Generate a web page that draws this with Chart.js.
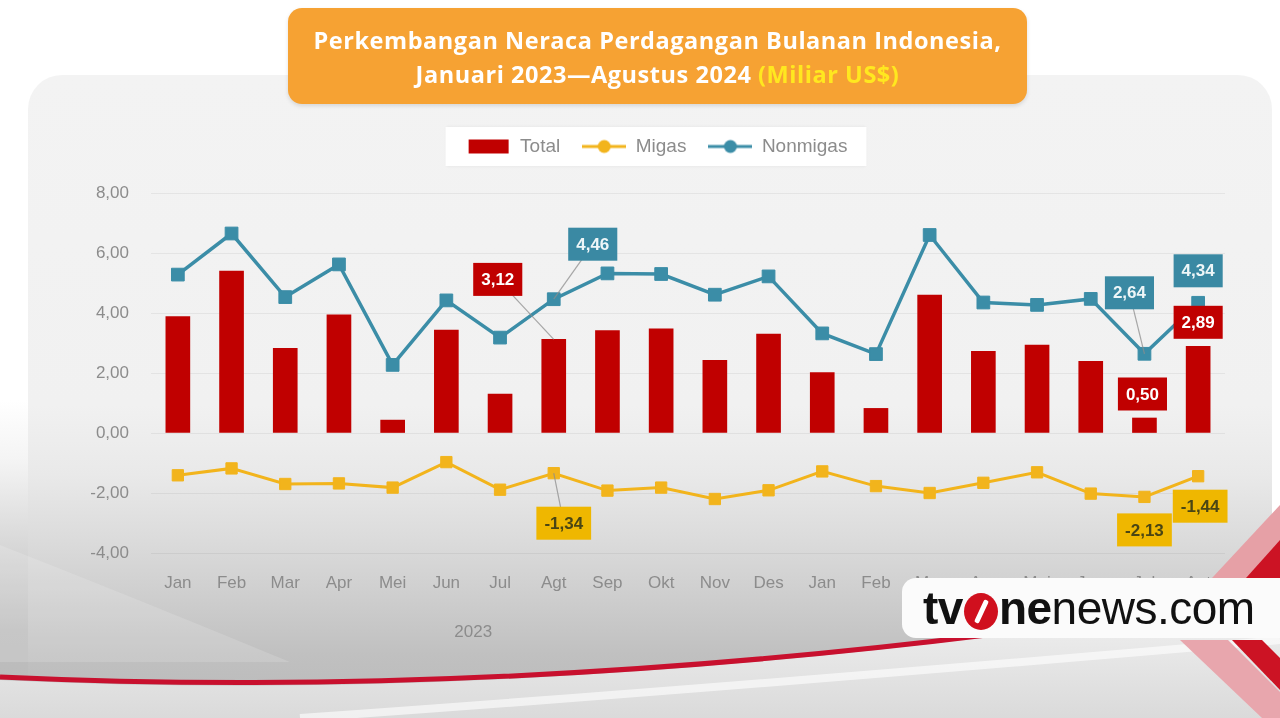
<!DOCTYPE html>
<html>
<head>
<meta charset="utf-8">
<script src="https://cdn.jsdelivr.net/npm/chart.js@4.4.1/dist/chart.umd.min.js"></script>
<style>
html,body{margin:0;padding:0;width:1280px;height:718px;overflow:hidden;background:#ffffff;}
#panel{position:absolute;left:28px;top:75px;width:1244px;height:643px;border-radius:34px 34px 0 0;
  background:linear-gradient(180deg,#f3f3f3 0px,#f1f1f1 330px,#e9e9e9 400px,#dadada 470px,#cccccc 530px,#c0c0c0 580px,#b9b9b9 643px);}
#leftband{position:absolute;left:0;top:400px;width:60px;height:318px;
  background:linear-gradient(180deg,rgba(255,255,255,1) 0px,rgba(244,244,244,1) 60px,rgba(214,214,214,1) 150px,rgba(190,190,190,1) 230px,rgba(185,185,185,1) 318px);}
#deco{position:absolute;left:0;top:0;}
#c{position:absolute;left:0;top:0;}
#title{position:absolute;left:288px;top:8px;width:739px;height:96px;border-radius:14px;background:#F6A233;
  color:#ffffff;font:700 23.5px "Open Sans",Lato,sans-serif;text-align:center;line-height:34px;box-sizing:border-box;padding-top:15px;
  box-shadow:0 2px 4px rgba(0,0,0,0.12);letter-spacing:0.55px;white-space:nowrap;}
#title .u{color:#FFE81F;}
#wm{position:absolute;left:902px;top:578px;width:420px;height:60px;background:#fbfbfb;border-radius:14px;
  font:46px "Liberation Sans",Arial,sans-serif;color:#111;line-height:60px;padding-left:21px;box-sizing:border-box;letter-spacing:-0.5px;white-space:nowrap;}
#wm b{font-weight:700;}
#wm .o{display:inline-block;width:34px;height:37px;border-radius:50%;background:#d0101e;vertical-align:-6px;position:relative;margin:0 1px;}
#wm .o::after{content:"";position:absolute;left:15px;top:6px;width:5px;height:25px;background:#fff;transform:rotate(25deg);border-radius:2px;}
</style>
</head>
<body>
<div id="leftband"></div>
<div id="panel"></div>
<svg id="deco" width="1280" height="718">
  <defs>
    <linearGradient id="lowg" x1="0" y1="0" x2="0" y2="1">
      <stop offset="0" stop-color="#f2f2f2"/>
      <stop offset="1" stop-color="#dadada"/>
    </linearGradient>
  </defs>
  <path d="M0,545 Q140,600 290,662 L0,662 Z" fill="rgba(255,255,255,0.15)"/>
  <path d="M0,680 Q470,702 995,636 L1280,600 L1280,718 L0,718 Z" fill="url(#lowg)"/>
  <path d="M0,677 Q470,699 995,634" fill="none" stroke="#c8102e" stroke-width="5"/>
  <path d="M300,718 Q700,690 1280,640" fill="none" stroke="rgba(255,255,255,0.6)" stroke-width="8"/>
  <polygon points="1212,578 1280,505 1280,548 1242,590" fill="#e6a0a6"/>
  <polygon points="1246,578 1280,540 1280,578" fill="#cc1324"/>
  <polygon points="1180,640 1228,640 1280,692 1280,718 1262,718" fill="#e8a6ad"/>
  <polygon points="1232,640 1262,640 1280,658 1280,690" fill="#cc1324"/>
</svg>
<canvas id="c" width="1280" height="718" style="width:1280px;height:718px;"></canvas>
<div id="title">Perkembangan Neraca Perdagangan Bulanan Indonesia,<br>Januari 2023—Agustus 2024 <span class="u">(Miliar US$)</span></div>
<div id="wm"><b>tv</b><span class="o"></span><b>ne</b>news.com</div>
<script>
// ---- data ----
const months = ['Jan','Feb','Mar','Apr','Mei','Jun','Jul','Agt','Sep','Okt','Nov','Des','Jan','Feb','Mar','Apr','Mei','Jun','Jul','Agt'];
const years = ['2023','2024'];
const monthsPerYear = [12, 8];
const seriesNames = ['Total','Migas','Nonmigas'];
const total = [3.88,5.40,2.82,3.94,0.43,3.43,1.30,3.12,3.41,3.47,2.42,3.30,2.01,0.82,4.60,2.72,2.93,2.39,0.50,2.89];
const migas = [-1.41,-1.18,-1.70,-1.68,-1.82,-0.97,-1.89,-1.34,-1.92,-1.82,-2.20,-1.91,-1.28,-1.77,-2.00,-1.66,-1.31,-2.02,-2.13,-1.44];
const nonmigas = [5.28,6.65,4.53,5.62,2.27,4.42,3.18,4.46,5.32,5.30,4.61,5.22,3.32,2.63,6.60,4.35,4.27,4.47,2.64,4.34];
const yTicks = [-4,-2,0,2,4,6,8];

// ---- style ----
const RED = '#C00000', GOLD = '#F2B41C', TEAL = '#3B8DA7';
const GRAY = '#8c8c8c';
const fmt = v => v.toFixed(2).replace('.', ',');

function icon(kind, color){
  const c = document.createElement('canvas'); c.width = 44; c.height = 16;
  const g = c.getContext('2d');
  if (kind === 'bar') { g.fillStyle = color; g.fillRect(2,1,40,14); }
  else {
    g.strokeStyle = color; g.lineWidth = 3; g.beginPath(); g.moveTo(0,8); g.lineTo(44,8); g.stroke();
    g.fillStyle = color; g.beginPath(); g.arc(22,8,6.5,0,Math.PI*2); g.fill();
  }
  return c;
}
const icons = [icon('bar', RED), icon('line', GOLD), icon('line', TEAL)];

// callout placement (offsets from the data point, in px) — styling only
const callouts = [
  {ds:0, i:7,  dx:-56, dy:-60},
  {ds:2, i:7,  dx:39,  dy:-55},
  {ds:1, i:7,  dx:10,  dy:50},
  {ds:2, i:18, dx:-15, dy:-61},
  {ds:0, i:18, dx:-2,  dy:-24},
  {ds:1, i:18, dx:0,   dy:33},
  {ds:2, i:19, dx:0,   dy:-32},
  {ds:0, i:19, dx:0,   dy:-24},
  {ds:1, i:19, dx:2,   dy:30}
];
const calloutColors = [
  {bg:RED, fg:'#ffffff'},
  {bg:'#EFB700', fg:'#4a4614'},
  {bg:'#3A89A3', fg:'#eef6f8'}
];

const legendBoxPlugin = {
  id:'legendBox',
  beforeDraw(chart){
    const lg = chart.legend; if (!lg || !lg.legendHitBoxes || !lg.legendHitBoxes.length) return;
    const hb = lg.legendHitBoxes;
    let l = Infinity, r = -Infinity, cy = 0;
    hb.forEach(h => { l = Math.min(l, h.left); r = Math.max(r, h.left + h.width); cy = h.top + h.height/2; });
    const ctx = chart.ctx; ctx.save();
    ctx.fillStyle = '#ffffff';
    ctx.shadowColor = 'rgba(0,0,0,0.08)'; ctx.shadowBlur = 3;
    ctx.fillRect(l - 21, cy - 19.5, (r - l) + 40, 39);
    ctx.restore();
  }
};

const yearPlugin = {
  id:'years',
  afterDraw(chart){
    const xs = chart.scales.x, ctx = chart.ctx;
    ctx.save();
    ctx.font = '17px "Liberation Sans", Arial, sans-serif';
    ctx.fillStyle = GRAY; ctx.textAlign = 'center'; ctx.textBaseline = 'middle';
    let start = 0;
    years.forEach((y, k) => {
      const end = start + monthsPerYear[k] - 1;
      const cx = (xs.getPixelForValue(start) + xs.getPixelForValue(end)) / 2;
      ctx.fillText(y, cx, chart.chartArea.bottom + 79);
      start = end + 1;
    });
    ctx.restore();
  }
};

const calloutPlugin = {
  id:'callouts',
  afterDatasetsDraw(chart){
    const ctx = chart.ctx;
    ctx.save();
    ctx.font = 'bold 17px "Liberation Sans", Arial, sans-serif';
    ctx.textAlign = 'center'; ctx.textBaseline = 'middle';
    const items = callouts.map(c => {
      const el = chart.getDatasetMeta(c.ds).data[c.i];
      const v = chart.data.datasets[c.ds].data[c.i];
      const txt = fmt(v);
      const w = ctx.measureText(txt).width + 16, h = 33;
      return {c, px:el.x, py:el.y, bx:el.x + c.dx, by:el.y + c.dy, w, h, txt};
    });
    ctx.strokeStyle = 'rgba(140,140,140,0.75)'; ctx.lineWidth = 1.2;
    items.forEach(it => {
      if (Math.abs(it.c.dx) > 5 || Math.abs(it.c.dy) > 40) {
        ctx.beginPath(); ctx.moveTo(it.bx, it.by); ctx.lineTo(it.px, it.py); ctx.stroke();
      }
    });
    items.forEach(it => {
      const col = calloutColors[it.c.ds];
      ctx.fillStyle = col.bg;
      ctx.fillRect(it.bx - it.w/2, it.by - it.h/2, it.w, it.h);
      ctx.fillStyle = col.fg;
      ctx.fillText(it.txt, it.bx, it.by + 1);
    });
    ctx.restore();
  }
};

new Chart(document.getElementById('c'), {
  data: {
    labels: months,
    datasets: [
      {type:'bar', label:seriesNames[0], data:total, backgroundColor:RED, barThickness:24, order:3},
      {type:'line', label:seriesNames[1], data:migas, borderColor:GOLD, backgroundColor:GOLD, borderWidth:3,
        pointStyle:'rect', pointRadius:8, pointBackgroundColor:GOLD, pointBorderColor:GOLD, pointBorderWidth:1, tension:0, order:2},
      {type:'line', label:seriesNames[2], data:nonmigas, borderColor:TEAL, backgroundColor:TEAL, borderWidth:3.5,
        pointStyle:'rect', pointRadius:9, pointBackgroundColor:TEAL, pointBorderColor:TEAL, pointBorderWidth:1, tension:0, order:1}
    ]
  },
  options: {
    responsive:false, animation:false, devicePixelRatio:1,
    layout:{padding:{left:89, right:55, top:115, bottom:0}},
    plugins:{
      tooltip:{enabled:false},
      title:{display:false},
      subtitle:{display:true, text:'', font:{size:10}, padding:{top:0, bottom:15}},
      legend:{
        position:'top', weight:3000,
        labels:{
          usePointStyle:true, pointStyleWidth:44, boxHeight:16, padding:22,
          color:GRAY, font:{family:'"Liberation Sans", Arial, sans-serif', size:19},
          generateLabels:(chart) => chart.data.datasets.map((ds, i) => ({
            text: ds.label, pointStyle: icons[i], fillStyle: ds.backgroundColor,
            strokeStyle:'rgba(0,0,0,0)', lineWidth:0, hidden:false, datasetIndex:i, fontColor:GRAY
          }))
        }
      }
    },
    scales:{
      x:{
        grid:{display:false, drawTicks:false}, border:{display:false},
        ticks:{color:GRAY, font:{family:'"Liberation Sans", Arial, sans-serif', size:17}, padding:20, maxRotation:0, autoSkip:false},
        afterFit(a){ a.height = 165; }
      },
      y:{
        min:yTicks[0], max:yTicks[yTicks.length-1],
        afterBuildTicks(a){ a.ticks = yTicks.map(v => ({value:v})); },
        grid:{color:'rgba(0,0,0,0.055)', drawTicks:false, lineWidth:1},
        border:{display:false},
        ticks:{color:GRAY, font:{family:'"Liberation Sans", Arial, sans-serif', size:17}, padding:22, callback:v => fmt(v)},
        afterFit(a){ a.width = 62; }
      }
    }
  },
  plugins:[legendBoxPlugin, calloutPlugin, yearPlugin]
});
</script>
</body>
</html>
